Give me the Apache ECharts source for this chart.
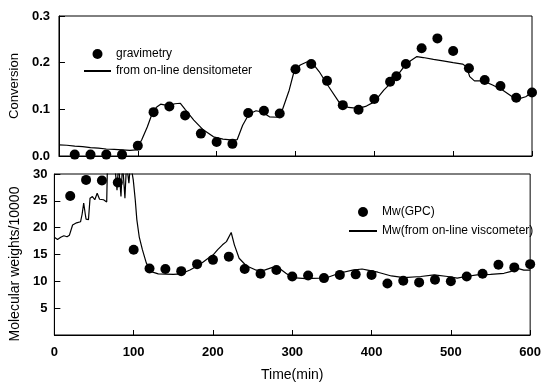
<!DOCTYPE html>
<html>
<head>
<meta charset="utf-8">
<script src="https://cdn.jsdelivr.net/npm/echarts@6/dist/echarts.min.js"></script>
<style>
  html, body { margin: 0; padding: 0; background: #fff; }
  #main { width: 544px; height: 385px; }
</style>
</head>
<body>
<div id="main"></div>
<script>
// upper panel: conversion
const gravTime = [20, 40, 60, 80, 100, 120, 140, 160, 180, 200, 220, 240, 260, 280, 300, 320, 340, 360, 380, 400, 420, 428, 440, 460, 480, 500, 520, 540, 560, 580, 600];
const gravConv = [0.003, 0.003, 0.003, 0.003, 0.022, 0.094, 0.106, 0.087, 0.048, 0.030, 0.026, 0.092, 0.097, 0.091, 0.186, 0.197, 0.161, 0.109, 0.099, 0.122, 0.159, 0.171, 0.197, 0.231, 0.252, 0.225, 0.188, 0.163, 0.150, 0.125, 0.136];

const densTime = [0, 10, 20, 30, 40, 50, 60, 70, 80, 90, 98, 105, 112, 118, 124, 129, 135, 140, 147, 154, 160, 171, 183, 196, 208, 221, 226, 233, 241, 250, 258, 267, 277, 282, 292, 298, 306, 315, 321, 330, 342, 355, 367, 380, 390, 400, 412, 425, 437, 446, 454, 462, 475, 487, 500, 512, 517, 521, 527, 538, 550, 563, 575, 582, 592, 600];
const densConv = [0.024, 0.023, 0.021, 0.020, 0.018, 0.017, 0.015, 0.014, 0.013, 0.012, 0.013, 0.035, 0.062, 0.090, 0.105, 0.111, 0.109, 0.108, 0.112, 0.113, 0.100, 0.077, 0.056, 0.041, 0.036, 0.034, 0.035, 0.066, 0.090, 0.097, 0.094, 0.084, 0.083, 0.092, 0.141, 0.180, 0.195, 0.202, 0.200, 0.181, 0.149, 0.116, 0.104, 0.102, 0.107, 0.116, 0.141, 0.163, 0.190, 0.204, 0.213, 0.211, 0.207, 0.204, 0.200, 0.197, 0.191, 0.170, 0.161, 0.161, 0.152, 0.141, 0.127, 0.122, 0.127, 0.136];

// lower panel: molecular weight (/10000)
const gpcTime = [20, 40, 60, 80, 100, 120, 140, 160, 180, 200, 220, 240, 260, 280, 300, 320, 340, 360, 380, 400, 420, 440, 460, 480, 500, 520, 540, 560, 580, 600];
const gpcMw = [25.9, 28.9, 28.8, 28.4, 15.9, 12.4, 12.3, 11.9, 13.2, 14.0, 14.6, 12.3, 11.4, 12.1, 10.9, 11.1, 10.6, 11.2, 11.3, 11.2, 9.6, 10.1, 9.8, 10.3, 10.0, 10.9, 11.4, 13.1, 12.6, 13.2];

const viscTime = [0, 4, 8, 12, 16, 19, 23, 28, 33, 35, 37, 39, 40, 43, 45, 48, 51, 54, 57, 62, 66, 67, 76, 79, 81, 84, 86, 89, 91, 94, 96, 99.5, 102, 104, 107, 111, 116, 122, 131, 150, 160, 171, 183, 194, 200, 206, 212, 217, 223, 227, 233, 242, 254, 265, 275, 284, 292, 300, 317, 334, 346, 359, 376, 388, 395, 408, 425, 441, 462, 479, 496, 508, 519, 533, 550, 567, 575, 584, 592, 600];
const viscMw = [18.2, 17.8, 18.2, 18.5, 18.3, 18.6, 20.5, 20.9, 21.1, 22.5, 24.6, 22.5, 21.6, 21.5, 25.5, 25.8, 25.2, 26.4, 25.3, 25.2, 24.8, 32, 32, 27, 32, 25.8, 32, 25.5, 32, 28.3, 32, 28.9, 25.2, 21.5, 18.3, 15.9, 13.4, 11.8, 11.4, 11.3, 11.4, 12.1, 13.1, 14.3, 14.9, 15.9, 16.8, 17.4, 19.1, 16.8, 14.3, 12.9, 12.1, 12.1, 12.6, 12.4, 11.5, 10.7, 10.5, 10.6, 10.8, 11.5, 12.1, 12.3, 12.1, 11.7, 11.0, 10.7, 10.9, 11.2, 10.9, 10.6, 10.9, 11.2, 11.3, 11.5, 11.8, 12.4, 12.1, 12.1];

const timeTicks = [0, 100, 200, 300, 400, 500, 600];

const zip = (xs, ys) => xs.map((x, i) => [x, ys[i]]);
const FONT = '"Liberation Sans", Arial, sans-serif';

let chartDom = document.getElementById('main');
let myChart = echarts.init(chartDom);
let option;

// legend entry for a plain line, no marker dot
const lineEntry = name => ({ name: name, itemStyle: { color: 'rgba(0,0,0,0)', borderWidth: 0 } });

const baseX = {
  type: 'value',
  min: timeTicks[0],
  max: timeTicks[timeTicks.length - 1],
  interval: 100,
  splitLine: { show: false },
  axisLine: { lineStyle: { color: '#000', width: 1 } },
  axisTick: { inside: true, length: 5, lineStyle: { color: '#000' } }
};
const baseY = {
  type: 'value',
  splitLine: { show: false },
  axisLine: { show: true, lineStyle: { color: '#000', width: 1 } },
  axisTick: { show: true, inside: true, length: 6, lineStyle: { color: '#000' } },
  axisLabel: { color: '#000', fontFamily: FONT, fontSize: 13, fontWeight: 'bold', margin: 7 },
  nameLocation: 'middle',
  nameTextStyle: { color: '#000', fontFamily: FONT }
};

option = {
  backgroundColor: '#fff',
  animation: false,
  grid: [
    { left: 54, right: 12, top: 16, height: 140, show: true, borderColor: '#000', borderWidth: 1 },
    { left: 54, right: 12, top: 174, height: 161, show: true, borderColor: '#000', borderWidth: 1 }
  ],
  legend: [
    {
      orient: 'vertical',
      left: 78,
      top: 43,
      itemWidth: 27,
      itemHeight: 10,
      itemGap: 5,
      data: ['gravimetry', lineEntry('from on-line densitometer')],
      textStyle: { color: '#000', fontFamily: FONT, fontSize: 12 }
    },
    {
      orient: 'vertical',
      left: 343,
      top: 201,
      itemWidth: 28,
      itemHeight: 10,
      itemGap: 7,
      data: ['Mw(GPC)', lineEntry('Mw(from on-line viscometer)')],
      textStyle: { color: '#000', fontFamily: FONT, fontSize: 12 }
    }
  ],
  xAxis: [
    Object.assign({}, baseX, { gridIndex: 0, axisLabel: { show: false } }),
    Object.assign({}, baseX, {
      gridIndex: 1,
      name: 'Time(min)',
      nameLocation: 'middle',
      nameGap: 33,
      nameTextStyle: { color: '#000', fontFamily: FONT, fontSize: 14 },
      axisLabel: { color: '#000', fontFamily: FONT, fontSize: 13, fontWeight: 'bold', margin: 11 }
    })
  ],
  yAxis: [
    Object.assign({}, baseY, {
      gridIndex: 0,
      min: 0,
      max: 0.3,
      interval: 0.1,
      name: 'Conversion',
      nameGap: 33,
      nameTextStyle: { color: '#000', fontFamily: FONT, fontSize: 13 },
      axisLabel: Object.assign({}, baseY.axisLabel, { margin: 9, formatter: v => v.toFixed(1) })
    }),
    Object.assign({}, baseY, {
      gridIndex: 1,
      min: 0,
      max: 30,
      interval: 5,
      name: 'Molecular weights/10000',
      nameGap: 22,
      nameTextStyle: { color: '#000', fontFamily: FONT, fontSize: 14, padding: [0, 19, 0, 0] },
      axisLabel: Object.assign({}, baseY.axisLabel, { formatter: v => (v === 0 ? '' : String(v)) })
    })
  ],
  series: [
    {
      name: 'gravimetry',
      type: 'scatter',
      xAxisIndex: 0,
      yAxisIndex: 0,
      symbol: 'circle',
      symbolSize: 10,
      itemStyle: { color: '#000', opacity: 1 },
      data: zip(gravTime, gravConv),
      z: 3
    },
    {
      name: 'from on-line densitometer',
      type: 'line',
      xAxisIndex: 0,
      yAxisIndex: 0,
      symbol: 'none',
      lineStyle: { color: '#000', width: 1.2 },
      itemStyle: { color: '#000' },
      data: zip(densTime, densConv),
      z: 2
    },
    {
      name: 'Mw(GPC)',
      type: 'scatter',
      xAxisIndex: 1,
      yAxisIndex: 1,
      symbol: 'circle',
      symbolSize: 10,
      itemStyle: { color: '#000', opacity: 1 },
      data: zip(gpcTime, gpcMw),
      z: 3
    },
    {
      name: 'Mw(from on-line viscometer)',
      type: 'line',
      xAxisIndex: 1,
      yAxisIndex: 1,
      symbol: 'none',
      clip: true,
      lineStyle: { color: '#000', width: 1.2 },
      itemStyle: { color: '#000' },
      data: zip(viscTime, viscMw),
      z: 2
    }
  ]
};

option && myChart.setOption(option);
window.addEventListener('resize', () => {
  myChart.resize();
});
</script>
</body>
</html>
